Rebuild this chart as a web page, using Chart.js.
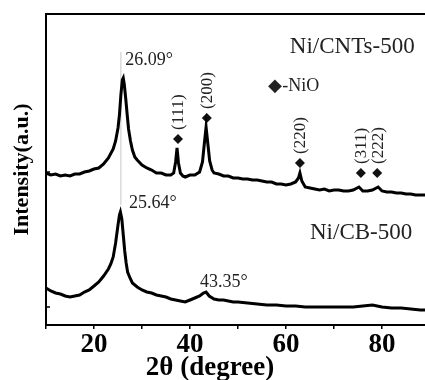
<!DOCTYPE html>
<html>
<head>
<meta charset="utf-8">
<script src="https://cdn.jsdelivr.net/npm/chart.js@4"></script>
<style>
  html, body { margin: 0; padding: 0; background: #fff; overflow: hidden; }
  canvas { display: block; }
</style>
</head>
<body>
<canvas id="xrd" width="440" height="380"></canvas>
<script>
// Ni/CNTs-500 pattern (2theta, intensity a.u.)
const cntX = [10, 11, 12, 13, 14, 15, 16, 17, 18, 19, 20, 21, 22, 23, 24, 24.5, 25, 25.3, 25.6, 25.9, 26.1, 26.3, 26.6, 26.9, 27.2, 27.6, 28, 28.5, 29, 30, 31, 32, 33, 34, 35, 36, 36.6, 37, 37.3, 37.6, 38, 38.5, 39, 40, 41, 42, 42.6, 43, 43.35, 43.7, 44.1, 44.6, 45, 46, 47, 48, 49, 50, 51, 52, 53, 54, 55, 56, 57, 58, 59, 60, 61, 62, 62.6, 62.9, 63.3, 64, 65, 66, 67, 68, 69, 70, 71, 72, 73, 74, 75.2, 76, 77, 78, 79.2, 80, 81, 82, 83, 84, 85, 86, 87, 88, 89, 90];
const cntY = [152, 150, 151, 149, 150, 149, 151, 151, 153, 154, 156, 157, 161, 167, 176, 184, 197, 210, 230, 245, 247, 241, 227, 211, 196, 184, 175, 168, 165, 160, 157, 155, 152, 152, 150, 150, 152, 163, 177, 162, 152, 149, 148, 150, 150, 153, 163, 182, 198, 182, 164, 155, 152, 151, 149, 149, 147, 147, 146, 146, 145, 145, 144, 143, 143, 141, 141, 140, 141, 143, 147, 152, 144, 138, 137, 136, 135, 136, 134, 135, 135, 134, 134, 135, 138, 134, 134, 135, 138, 134, 133, 133, 132, 132, 131, 131, 130, 130, 130, 129];

// Ni/CB-500 pattern
const cbX = [10, 11, 12, 13, 14, 15, 16, 17, 18, 19, 20, 21, 22, 23, 23.5, 24, 24.5, 25, 25.3, 25.5, 25.8, 26.1, 26.4, 26.7, 27, 27.5, 28, 29, 30, 31, 32, 33, 34, 35, 36, 37, 38, 39, 40, 41, 42, 42.8, 43.35, 44, 45, 46, 47, 48, 49, 50, 52, 54, 56, 58, 60, 62, 64, 66, 68, 70, 72, 74, 76, 78, 80, 82, 84, 86, 88, 90];
const cbY = [37, 34, 32, 31, 29, 28, 29, 30, 33, 35, 39, 43, 49, 56, 61, 68, 82, 100, 110, 113, 106, 90, 74, 62, 53, 47, 42, 38, 35, 33, 32, 30, 29, 28, 26, 25, 24, 23, 25, 27, 29, 32, 33, 29, 26, 25, 25, 24, 23, 23, 22, 21, 20, 20, 19, 19, 18, 18, 18, 18, 18, 18, 19, 20, 18, 17, 17, 16, 15, 15];

// NiO reflections
const nioX = [37.5, 43.5, 62.9, 75.6, 79.0];
const nioY = [186, 207, 162, 152, 152];
const hkl = ['(111)', '(200)', '(220)', '(311)', '(222)'];

// guide line through the carbon peak
const guideX = [25.6, 25.6];
const guideY = [120, 273];

// ticks
const xTickLabels = [20, 40, 60, 80];
const yMarks = [18, 153];

const serif = '"Liberation Serif", "Times New Roman", serif';

const notes = [
  { text: '26.09°', x: 26.5, y: 265, size: 18 },
  { text: 'Ni/CNTs-500', x: 60.8, y: 278, size: 23 },
  { text: '◆-NiO', x: 56.3, y: 239, size: 18 },
  { text: '25.64°', x: 27.3, y: 122, size: 18 },
  { text: 'Ni/CB-500', x: 65, y: 92, size: 23 },
  { text: '43.35°', x: 42.1, y: 43, size: 18 },
];

const toPts = (xs, ys) => xs.map((v, i) => ({ x: v, y: ys[i] }));

const extras = {
  id: 'extras',
  afterDatasetsDraw(chart) {
    const { ctx, chartArea: a, scales: { x, y } } = chart;
    ctx.save();
    ctx.strokeStyle = '#000';
    ctx.lineWidth = 2;
    ctx.strokeRect(a.left, a.top, a.right - a.left, a.bottom - a.top);

    // small inward marks on the left axis
    ctx.lineWidth = 1.5;
    yMarks.forEach((v) => {
      const py = y.getPixelForValue(v);
      ctx.beginPath();
      ctx.moveTo(a.left, py);
      ctx.lineTo(a.left + 4, py);
      ctx.stroke();
    });

    // hkl labels, rotated above each diamond
    ctx.fillStyle = '#222';
    ctx.textBaseline = 'middle';
    ctx.textAlign = 'left';
    ctx.font = '17px ' + serif;
    nioX.forEach((d, i) => {
      ctx.save();
      ctx.translate(x.getPixelForValue(d) + 1, y.getPixelForValue(nioY[i]) - 9);
      ctx.rotate(-Math.PI / 2);
      ctx.fillText(hkl[i], 0, 0);
      ctx.restore();
    });

    notes.forEach((n) => {
      ctx.font = n.size + 'px ' + serif;
      ctx.fillText(n.text, x.getPixelForValue(n.x), y.getPixelForValue(n.y));
    });

    // x axis title
    ctx.fillStyle = '#000';
    ctx.textAlign = 'center';
    ctx.font = 'bold 27px ' + serif;
    ctx.fillText('2θ (degree)', a.left + 164, a.bottom + 43);
    ctx.restore();
  }
};

new Chart(document.getElementById('xrd'), {
  type: 'line',
  data: {
    datasets: [{
      label: 'Ni/CNTs-500',
      data: toPts(cntX, cntY),
      borderColor: '#000',
      borderWidth: 3,
      pointRadius: 0,
      tension: 0,
    }, {
      label: 'Ni/CB-500',
      data: toPts(cbX, cbY),
      borderColor: '#000',
      borderWidth: 3,
      pointRadius: 0,
      tension: 0,
    }, {
      label: 'NiO',
      data: toPts(nioX, nioY),
      showLine: false,
      pointStyle: 'rectRot',
      pointRadius: 5,
      backgroundColor: '#111',
      borderColor: '#111',
      borderWidth: 0,
    }, {
      label: 'guide',
      data: toPts(guideX, guideY),
      borderColor: '#c8c8c8',
      borderWidth: 1,
      pointRadius: 0,
    }],
  },
  options: {
    responsive: false,
    animation: false,
    devicePixelRatio: 1,
    layout: { padding: { top: 14, right: 10, left: 0, bottom: 0 } },
    plugins: { legend: { display: false }, tooltip: { enabled: false } },
    scales: {
      x: {
        type: 'linear',
        min: 10,
        max: 90,
        afterFit: (s) => { s.height = 55; },
        border: { display: false },
        grid: { drawOnChartArea: false, color: '#000', lineWidth: 1.5, tickLength: 4 },
        ticks: {
          stepSize: 10,
          padding: 0,
          color: '#000',
          font: { family: serif, size: 27, weight: 'bold' },
          maxRotation: 0,
          autoSkip: false,
          callback: (v) => (xTickLabels.includes(v) ? String(v) : ''),
        },
      },
      y: {
        min: 0,
        max: 311,
        afterFit: (s) => { s.width = 46; },
        border: { display: false },
        grid: { display: false },
        ticks: { display: false },
        title: {
          display: true,
          text: 'Intensity(a.u.)',
          color: '#000',
          font: { family: serif, size: 22, weight: 'bold' },
          padding: { top: 9, bottom: 0 },
        },
      },
    },
  },
  plugins: [extras],
});
</script>
</body>
</html>
